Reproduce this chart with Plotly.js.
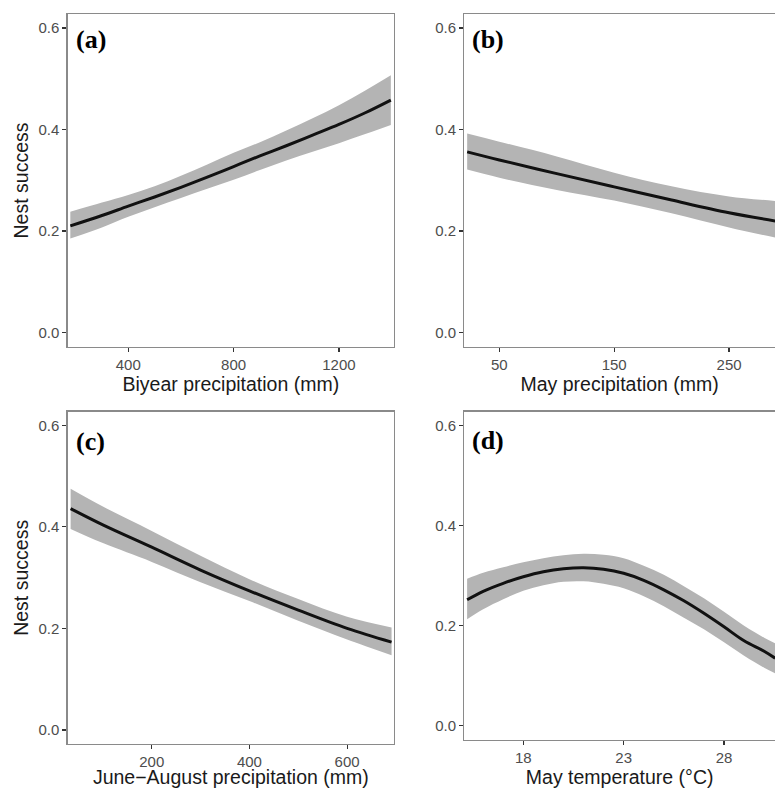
<!DOCTYPE html>
<html>
<head>
<meta charset="utf-8">
<script src="https://cdn.plot.ly/plotly-3.0.1.min.js"></script>
<style>html,body{margin:0;padding:0;background:#fff;}#chart{width:775px;height:788px;}</style>
</head>
<body>
<div id="chart"></div>
<script>
// Panel (a): Biyear precipitation
const xA = [180, 300, 400, 500, 600, 700, 800, 900, 1000, 1100, 1200, 1300, 1397];
const fitA = [0.210, 0.2305, 0.249, 0.267, 0.286, 0.306, 0.327, 0.348, 0.368, 0.389, 0.410, 0.433, 0.458];
const upA  = [0.238, 0.256, 0.271, 0.288, 0.309, 0.331, 0.354, 0.375, 0.398, 0.422, 0.448, 0.477, 0.507];
const loA  = [0.185, 0.207, 0.228, 0.247, 0.265, 0.283, 0.301, 0.320, 0.339, 0.356, 0.373, 0.391, 0.409];

// Panel (b): May precipitation
const xB = [22, 50, 100, 150, 200, 250, 292];
const fitB = [0.356, 0.340, 0.313, 0.287, 0.261, 0.236, 0.219];
const upB  = [0.392, 0.376, 0.347, 0.315, 0.288, 0.268, 0.259];
const loB  = [0.321, 0.305, 0.281, 0.260, 0.235, 0.207, 0.186];

// Panel (c): June-August precipitation
const xC = [34, 100, 200, 300, 400, 500, 600, 691];
const fitC = [0.436, 0.404, 0.360, 0.315, 0.274, 0.236, 0.200, 0.173];
const upC  = [0.475, 0.440, 0.392, 0.343, 0.297, 0.258, 0.223, 0.202];
const loC  = [0.396, 0.368, 0.331, 0.291, 0.254, 0.215, 0.178, 0.147];

// Panel (d): May temperature
const xD = [15.2, 16, 17, 18, 19, 20, 21, 22, 23, 24, 25, 26, 27, 28, 29, 30, 30.55];
const fitD = [0.251, 0.268, 0.284, 0.297, 0.307, 0.313, 0.315, 0.312, 0.304, 0.290, 0.271, 0.249, 0.224, 0.197, 0.169, 0.148, 0.134];
const upD  = [0.293, 0.305, 0.316, 0.326, 0.334, 0.340, 0.343, 0.341, 0.334, 0.319, 0.301, 0.278, 0.254, 0.227, 0.199, 0.175, 0.164];
const loD  = [0.212, 0.232, 0.252, 0.269, 0.280, 0.287, 0.288, 0.283, 0.274, 0.258, 0.238, 0.215, 0.192, 0.166, 0.139, 0.115, 0.104];

const panelLabels = ["(a)", "(b)", "(c)", "(d)"];
const xTitles = ["Biyear precipitation (mm)", "May precipitation (mm)", "June\u2212August precipitation (mm)", "May temperature (\u00B0C)"];
const yTitle = "Nest success";
const yTicks = [0, 0.2, 0.4, 0.6];
const yTickText = ["0.0", "0.2", "0.4", "0.6"];
const xTicksA = [400, 800, 1200];
const xTicksB = [50, 150, 250];
const xTicksC = [200, 400, 600];
const xTicksD = [18, 23, 28];

const panels = [
  {x: xA, fit: fitA, up: upA, lo: loA, xa: 'x', ya: 'y'},
  {x: xB, fit: fitB, up: upB, lo: loB, xa: 'x2', ya: 'y2'},
  {x: xC, fit: fitC, up: upC, lo: loC, xa: 'x3', ya: 'y3'},
  {x: xD, fit: fitD, up: upD, lo: loD, xa: 'x4', ya: 'y4'}
];

const ribbon = '#b4b4b4';
const traces = [];
panels.forEach(p => {
  traces.push({x: p.x, y: p.lo, xaxis: p.xa, yaxis: p.ya, mode: 'lines', line: {width: 0, shape: 'spline', smoothing: 1, color: ribbon}, hoverinfo: 'skip', showlegend: false});
  traces.push({x: p.x, y: p.up, xaxis: p.xa, yaxis: p.ya, mode: 'lines', fill: 'tonexty', fillcolor: ribbon, line: {width: 0, shape: 'spline', smoothing: 1, color: ribbon}, hoverinfo: 'skip', showlegend: false});
  traces.push({x: p.x, y: p.fit, xaxis: p.xa, yaxis: p.ya, mode: 'lines', line: {width: 3, shape: 'spline', smoothing: 1, color: '#111111'}, showlegend: false});
});

const tickFont = {family: 'Liberation Sans, Arial, sans-serif', size: 15, color: '#4d4d4d'};
const titleFont = {family: 'Liberation Sans, Arial, sans-serif', size: 19.5, color: '#1a1a1a'};
const frame = '#8a8a8a';

function xaxis(domain, range, ticks, title, anchor, standoff) {
  return {domain: domain, range: range, anchor: anchor, tickvals: ticks, ticktext: ticks.map(String),
    showgrid: false, zeroline: false, showline: true, linecolor: frame, linewidth: 1.3, mirror: true,
    ticks: 'outside', ticklen: 4, tickwidth: 1.2, tickcolor: '#333333', tickfont: tickFont,
    title: {text: title, font: titleFont, standoff: standoff}, automargin: false, fixedrange: true};
}
function yaxis(domain, range, title, mirror, anchor) {
  return {domain: domain, range: range, anchor: anchor, tickvals: yTicks, ticktext: yTickText,
    showgrid: false, zeroline: false, showline: true, linecolor: frame, linewidth: 1.3, mirror: mirror,
    ticks: 'outside', ticklen: 4, tickwidth: 1.2, tickcolor: '#333333', tickfont: tickFont,
    title: {text: title, font: titleFont, standoff: 4}, automargin: false, fixedrange: true};
}

const W = 775, H = 788;
const leftDom = [67.7 / W, 394 / W];
const rightDom = [464.3 / W, 1];
const topDomAB = [1 - 347 / H, 1 - 14 / H];
const botDomC = [1 - 744 / H, 1 - 411.7 / H];
const botDomD = [1 - 740 / H, 1 - 411.7 / H];

function label(text, xref, yref, y) {
  return {text: text, xref: xref, yref: yref, x: 0.018, y: y, xanchor: 'left', yanchor: 'middle', showarrow: false,
    font: {family: 'Liberation Serif, Times New Roman, serif', size: 26, color: '#000000', weight: 'bold'}};
}

const layout = {
  width: W, height: H,
  margin: {l: 0, r: 0, t: 0, b: 0},
  paper_bgcolor: '#ffffff', plot_bgcolor: '#ffffff',
  showlegend: false,
  xaxis: xaxis(leftDom, [170, 1409], xTicksA, xTitles[0], 'y', 1),
  yaxis: yaxis(topDomAB, [-0.0286, 0.6276], yTitle, true, 'x'),
  xaxis2: xaxis(rightDom, [19.5, 290], xTicksB, xTitles[1], 'y2', 1),
  yaxis2: yaxis(topDomAB, [-0.0286, 0.6276], '', false, 'x2'),
  xaxis3: xaxis(leftDom, [28, 696], xTicksC, xTitles[2], 'y3', 4),
  yaxis3: yaxis(botDomC, [-0.0276, 0.6268], yTitle, true, 'x3'),
  xaxis4: xaxis(rightDom, [15.06, 30.54], xTicksD, xTitles[3], 'y4', 2),
  yaxis4: yaxis(botDomD, [-0.0294, 0.6272], '', false, 'x4'),
  annotations: [
    label(panelLabels[0], 'x domain', 'y domain', 0.923),
    label(panelLabels[1], 'x2 domain', 'y2 domain', 0.923),
    label(panelLabels[2], 'x3 domain', 'y3 domain', 0.911),
    label(panelLabels[3], 'x4 domain', 'y4 domain', 0.911)
  ]
};

Plotly.newPlot('chart', traces, layout, {displayModeBar: false, staticPlot: true});
</script>
</body>
</html>
